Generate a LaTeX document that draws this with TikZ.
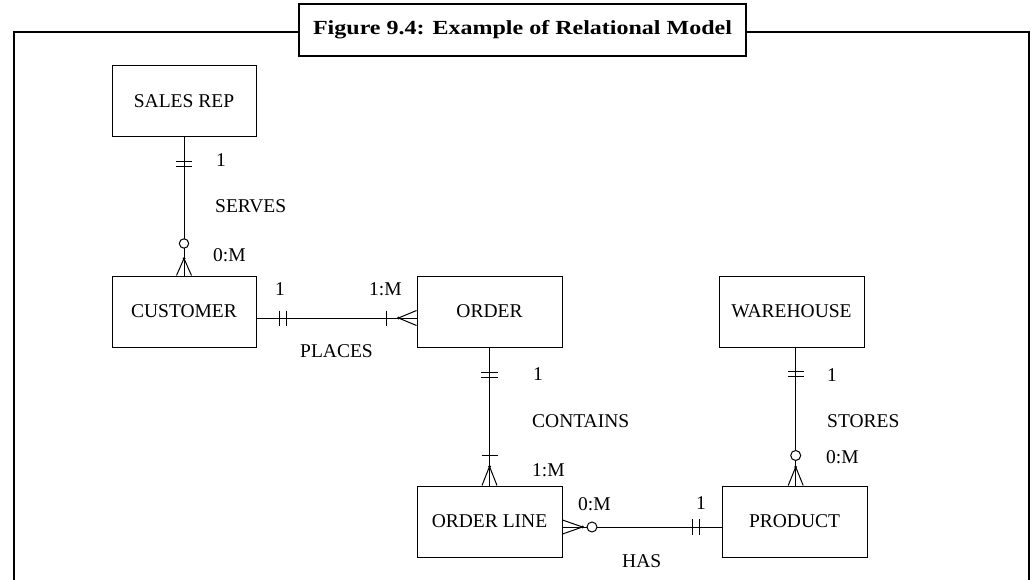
\documentclass[tikz,border=0pt]{standalone}
\usepackage{fontspec}
\usepackage{graphicx}
\setmainfont{Liberation Serif}
\usetikzlibrary{calc}
\begin{document}
\begin{tikzpicture}[x=1pt,y=-1pt,
  entity/.style={draw,line width=1pt,minimum width=145pt,minimum height=71pt,inner sep=0pt,
    font=\fontsize{19.5}{23}\selectfont},
  lbl/.style={anchor=west,inner sep=0pt,font=\fontsize{19.5}{23}\selectfont},
  conn/.style={line width=1pt},
  tick/.style={line width=1pt},
  ring/.style={draw,line width=1pt,fill=white},
  frame/.style={line width=2.4pt,line join=miter}]
\useasboundingbox (0,0) rectangle (1033,580);

% caption box and outer frame
\node[draw,line width=2.4pt,minimum width=447pt,minimum height=52pt,inner sep=0pt,
  font=\bfseries\fontsize{20}{24}\selectfont] (title) at (522.5,30)
  {\scalebox{1.2}[1]{Figure 9.4: Example of Relational Model}};
\draw[frame] ($(title.west)+(0,2)$) -- (14,32) -- (14,590);
\draw[frame] ($(title.east)+(0,2)$) -- (1029,32) -- (1029,590);

% entities
\node[entity,minimum width=144pt] (sr) at (184,101.5) {SALES REP};
\node[entity,minimum width=144pt] (cu) at (184,311.5) {CUSTOMER};
\node[entity] (or) at (489.5,311.5) {ORDER};
\node[entity] (ol) at (489.5,521.5) {ORDER LINE};
\node[entity] (wh) at (791.5,311.5) {WAREHOUSE};
\node[entity] (pr) at (794.5,521.5) {PRODUCT};

% SALES REP -- CUSTOMER
\draw[conn] (sr.south) -- (cu.north);
\draw[tick] ($(sr.south)+(-8,24)$) -- ++(16,0);
\draw[tick] ($(sr.south)+(-8,29)$) -- ++(16,0);
\filldraw[ring] ($(cu.north)+(0,-32)$) circle (4.7pt);
\draw[tick] ($(cu.north)+(-7.5,0)$) -- ($(cu.north)+(0,-17)$) -- ($(cu.north)+(7.5,0)$);
\fill ($(cu.north)+(0,-17)$) circle (1.5pt);

% CUSTOMER -- ORDER
\draw[conn] ($(cu.east)+(0,6.5)$) -- ($(or.west)+(0,6.5)$);
\draw[tick] ($(cu.east)+(23,-1)$) -- ++(0,15);
\draw[tick] ($(cu.east)+(30,-1)$) -- ++(0,15);
\draw[tick] ($(or.west)+(-30,-1)$) -- ++(0,15);
\draw[tick] ($(or.west)+(0,-1)$) -- ($(or.west)+(-18,6.5)$) -- ($(or.west)+(0,14)$);
\fill ($(or.west)+(-18,6.5)$) circle (1.5pt);

% ORDER -- ORDER LINE
\draw[conn] (or.south) -- (ol.north);
\draw[tick] ($(or.south)+(-8.5,25)$) -- ++(17,0);
\draw[tick] ($(or.south)+(-8.5,30)$) -- ++(17,0);
\draw[tick] ($(ol.north)+(-8,-30)$) -- ++(16,0);
\draw[tick] ($(ol.north)+(-7.5,0)$) -- ($(ol.north)+(0,-19)$) -- ($(ol.north)+(7.5,0)$);
\fill ($(ol.north)+(0,-19)$) circle (1.5pt);

% ORDER LINE -- PRODUCT
\draw[conn] ($(ol.east)+(0,5.5)$) -- ($(pr.west)+(0,5.5)$);
\draw[tick] ($(ol.east)+(0,-1.5)$) -- ($(ol.east)+(20,5.5)$) -- ($(ol.east)+(0,12.5)$);
\fill ($(ol.east)+(20,5.5)$) circle (1.5pt);
\filldraw[ring] ($(ol.east)+(29.5,5.5)$) circle (5pt);
\draw[tick] ($(pr.west)+(-29,-2.5)$) -- ++(0,16);
\draw[tick] ($(pr.west)+(-22,-2.5)$) -- ++(0,16);

% WAREHOUSE -- PRODUCT
\draw[conn] ($(wh.south)+(4.2,0)$) -- ($(pr.north)+(1.2,0)$);
\draw[tick] ($(wh.south)+(-3.8,24)$) -- ++(16,0);
\draw[tick] ($(wh.south)+(-3.8,29)$) -- ++(16,0);
\filldraw[ring] ($(pr.north)+(1.2,-30)$) circle (5pt);
\draw[tick] ($(pr.north)+(-6.3,0)$) -- ($(pr.north)+(1.2,-18.5)$) -- ($(pr.north)+(8.7,0)$);
\fill ($(pr.north)+(1.2,-18.5)$) circle (1.5pt);

% relationship names and cardinalities
\node[lbl] (c1) at (216,160) {1};
\node[lbl] (serves) at (215,206) {SERVES};
\node[lbl] (c2) at (213,255) {0:M};
\node[lbl] (c3) at (275,289) {1};
\node[lbl] (c4) at (369,289) {1:M};
\node[lbl] (places) at (300,351) {PLACES};
\node[lbl] (c5) at (533,374) {1};
\node[lbl] (contains) at (532,421) {CONTAINS};
\node[lbl] (c6) at (532,470) {1:M};
\node[lbl] (c7) at (578,504) {0:M};
\node[lbl] (has) at (622,561) {HAS};
\node[lbl] (c8) at (696,503) {1};
\node[lbl] (c9) at (827,375) {1};
\node[lbl] (stores) at (827,421) {STORES};
\node[lbl] (c10) at (826,457) {0:M};
\end{tikzpicture}
\end{document}
